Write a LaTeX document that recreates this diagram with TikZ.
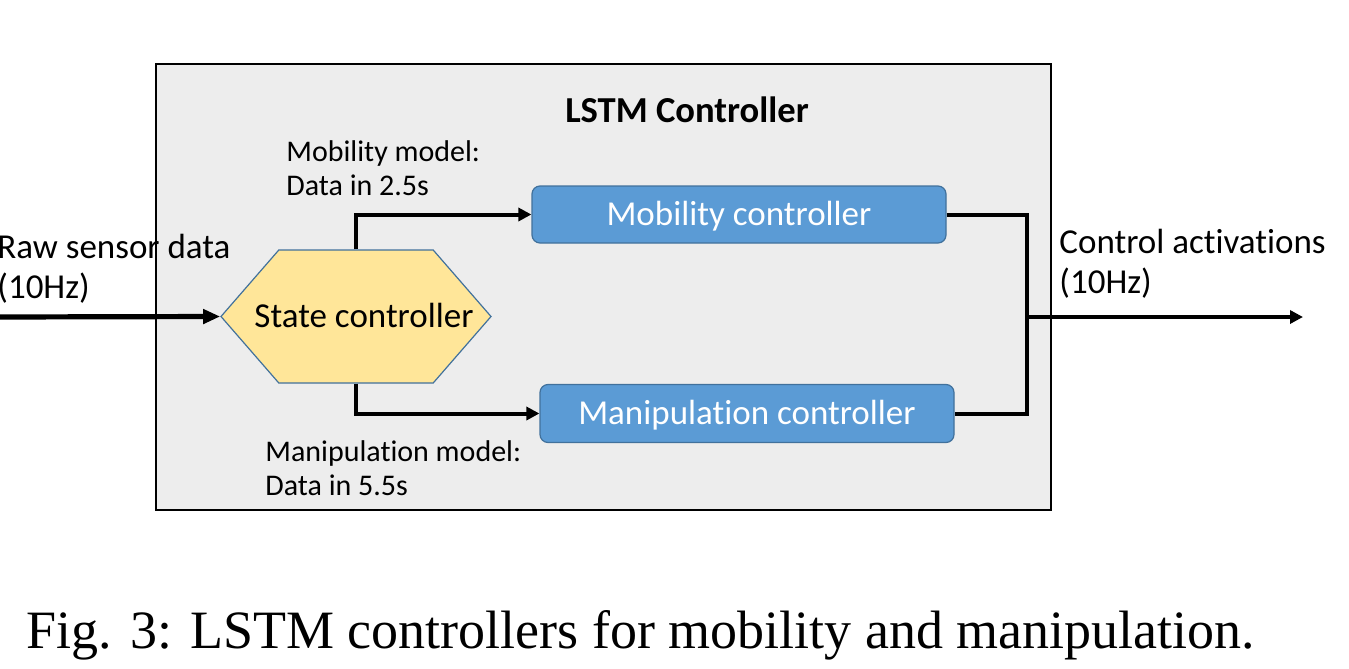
\documentclass[tikz,border=0pt]{standalone}
\usepackage{fontspec}
\setmainfont[Ligatures=NoCommon]{Carlito}
\newfontfamily\captionfont{Liberation Serif}
\usetikzlibrary{shapes.symbols, arrows.meta, positioning}
\definecolor{PanelGray}{HTML}{EDEDED}
\definecolor{StateYellow}{HTML}{FFE699}
\definecolor{CtrlBlue}{HTML}{5B9BD5}
\definecolor{EdgeBlue}{HTML}{41719C}

\begin{document}
\begin{tikzpicture}[
        x=0.5pt, y=-0.5pt,
        % Estilos para los controladores
        ctrlbox/.style={
                rectangle,
                rounded corners=4pt,
                minimum width=207pt,
                minimum height=28.5pt,
                inner sep=0pt,
                text height=11.3pt,
                text depth=0pt,
                text centered,
                font=\fontsize{17.5}{20}\selectfont,
                text=white,
                fill=CtrlBlue,
                draw=EdgeBlue,
                line width=0.6pt
            },
        % Estilo del hexagono
        statebox/.style={
                signal,
                signal to=east and west,
                signal pointer angle=98,
                minimum width=135pt,
                minimum height=66.5pt,
                inner sep=0pt,
                text height=11.3pt,
                text depth=0pt,
                font=\fontsize{17.5}{20}\selectfont,
                fill=StateYellow,
                draw=EdgeBlue,
                line width=0.6pt
            },
        % Etiquetas
        label/.style={
                anchor=base west,
                inner sep=0pt,
                align=left,
                font=\fontsize{15}{17}\selectfont
            },
        biglabel/.style={
                label,
                font=\fontsize{17.5}{20}\selectfont
            },
        % Flechas
        wire/.style={
                line width=2pt,
                line join=miter
            },
        arrow/.style={
                wire,
                -{Triangle[length=6.5pt, width=6.5pt]}
            }
    ]
    \useasboundingbox (0,0) rectangle (1349,669);

    % Panel principal
    \node[draw, fill=PanelGray, line width=0.75pt, minimum width=447.5pt,
          minimum height=223pt, inner sep=0pt] (panel) at (603.5,287) {};
    \node[anchor=base, inner sep=0pt, font=\fontsize{18.3}{20}\selectfont\bfseries]
        (titulo) at (687,122) {LSTM Controller};

    % Nodos
    \node[statebox] (state) at (356,316.5) {\makebox[0pt]{\hspace{8pt}State controller}};
    \node[ctrlbox] (mob) at (739,214.5) {Mobility controller};
    \node[ctrlbox, minimum height=29pt] (man) at (747,413.5) {Manipulation controller};

    % Etiquetas (la base es la de la ultima linea)
    \node[label] (mobtxt) at (286,195) {Mobility model:\\Data in 2.5s};
    \node[label] (mantxt) at (265,495) {Manipulation model:\\Data in 5.5s};
    \node[biglabel] (rawtxt) at (-3,298) {Raw sensor data\\(10Hz)};
    \node[biglabel] (outtxt) at (1059,293) {Control activations\\(10Hz)};

    % Flechas
    \coordinate (entrada) at (0,317);
    \coordinate (junta) at (1027,317);
    \coordinate (salida) at (1303,317);
    \draw[wire, line width=2.6pt, -{Triangle[length=8.5pt, width=7pt]}] (entrada) -- (state.west);
    \draw[arrow] (state.north) |- (mob.west);
    \draw[arrow] (state.south) |- (man.west);
    \draw[wire] (mob.east) -| (junta) |- (man.east);
    \draw[arrow] (junta) -- (salida);

    % Pie de figura
    \node[anchor=base, inner sep=0pt, font=\fontsize{27}{30}\captionfont]
        (pie) at (641,648) {Fig. 3: LSTM controllers for mobility and manipulation.};

\end{tikzpicture}
\end{document}
